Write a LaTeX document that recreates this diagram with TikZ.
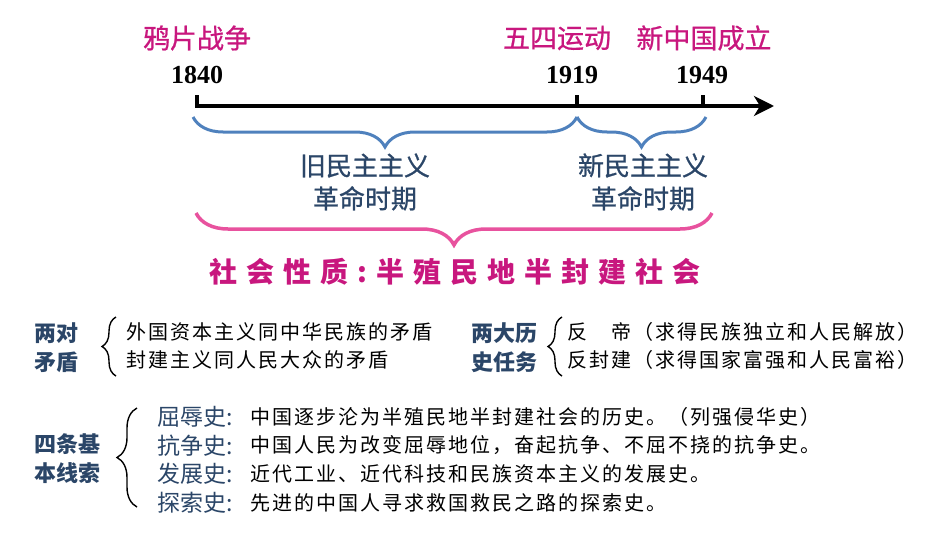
\documentclass[tikz,border=0pt]{standalone}
\usepackage{fontspec}
\setmainfont{Liberation Serif}
\newfontfamily\cjk{Noto Sans CJK SC}
\newfontfamily\cjkmed[FakeBold=0.8]{Noto Sans CJK SC}
\newfontfamily\cjkwide[LetterSpace=32]{Noto Sans CJK SC}
\newfontfamily\cjkbody[LetterSpace=10]{Noto Sans CJK SC}
\usepackage{xcolor}
\usepackage{tikz}
\usetikzlibrary{calc,arrows.meta,positioning,decorations.pathreplacing}
\definecolor{evtc}{HTML}{C8177E}
\definecolor{perc}{HTML}{2B4668}
\definecolor{bluec}{HTML}{4F81BD}
\definecolor{pinkc}{HTML}{E8529E}
\tikzset{
  axis/.style={-{Stealth[length=20pt,width=20pt,inset=6pt]},line width=3.5pt,black},
  tk/.style={line width=3.5pt,black},
  bbrace/.style={decorate,decoration={brace,mirror,amplitude=30pt},line width=3pt,bluec},
  pbrace/.style={decorate,decoration={brace,mirror,amplitude=32pt},line width=3.5pt,pinkc},
  kbrace/.style={decorate,decoration={brace,amplitude=#1},line width=1.4pt,black},
  evt/.style={font=\cjkmed\fontsize{27}{30}\selectfont,text=evtc,inner sep=0pt},
  yr/.style={font=\fontsize{26}{28}\selectfont\bfseries,inner sep=0pt},
  per/.style={font=\cjkmed\fontsize{26}{33}\selectfont,text=perc,align=center,inner sep=0pt},
  soc/.style={font=\cjkwide\bfseries\fontsize{28}{30}\selectfont,text=evtc,inner sep=0pt},
  lab/.style={font=\cjk\bfseries\fontsize{22}{29}\selectfont,text=perc,align=center,inner sep=0pt},
  hd/.style={font=\cjk\fontsize{23}{25}\selectfont,text=perc,anchor=west,inner sep=0pt},
  txt/.style={font=\cjkbody\fontsize{20}{22}\selectfont,anchor=west,inner sep=0pt}
}
\begin{document}
\begin{tikzpicture}[x=1pt,y=-1pt]
\useasboundingbox (0,0) rectangle (950,535);
% timeline
\coordinate (t1840) at (197,106);
\coordinate (t1919) at (577,106);
\coordinate (t1949) at (703,106);
\coordinate (tend) at (774,106);
\draw[axis] ([yshift=11pt]t1840) -- (t1840) -- (tend);
\draw[tk] ([yshift=11pt]t1919) -- (t1919);
\draw[tk] ([yshift=11pt]t1949) -- (t1949);
\node[evt] (yapian) at (197,38) {鸦片战争};
\node[evt] (wusi) at (557,38) {五四运动};
\node[evt] (xinzg) at (704,38) {新中国成立};
\node[yr] (y1840) at (197,75) {1840};
\node[yr] (y1919) at (572,75) {1919};
\node[yr] (y1949) at (702,75) {1949};
% periods
\draw[bbrace] (193,117) -- (577,117);
\draw[bbrace] (577,117) -- (706,117);
\node[per] (jiu) at (365,182) {旧民主主义\\革命时期};
\node[per] (xin) at (643,182) {新民主主义\\革命时期};
\draw[pbrace] (196,213) -- (712,213);
\node[soc] (shehui) at (455,272) {社会性质:半殖民地半封建社会};
% contradictions and tasks
\node[lab] (liangdui) at (56,348) {两对\\矛盾};
\draw[kbrace=14pt] (116,376) -- (116,317);
\node[txt] (md1) at (126,332) {外国资本主义同中华民族的矛盾};
\node[txt] (md2) at (126,360) {封建主义同人民大众的矛盾};
\node[lab] (renwu) at (504,348) {两大历\\史任务};
\draw[kbrace=14pt] (562,376) -- (562,317);
\node[txt] (rw1) at (567,332) {反　帝（求得民族独立和人民解放）};
\node[txt] (rw2) at (567,360) {反封建（求得国家富强和人民富裕）};
% four threads
\node[lab] (sitiao) at (67,459) {四条基\\本线索};
\draw[kbrace=20pt] (137,507) -- (137,408);
\foreach \i/\hname/\tname in {0/qu/屈辱史,1/kang/抗争史,2/fa/发展史,3/tan/探索史}{
  \node[hd] (\hname) at (157,{417+28.5*\i}) {\tname:};
}
\node[txt] (quT) at (250,417) {中国逐步沦为半殖民地半封建社会的历史。（列强侵华史）};
\node[txt] (kangT) at (250,445.5) {中国人民为改变屈辱地位，奋起抗争、不屈不挠的抗争史。};
\node[txt] (faT) at (250,474) {近代工业、近代科技和民族资本主义的发展史。};
\node[txt] (tanT) at (250,502.5) {先进的中国人寻求救国救民之路的探索史。};
\end{tikzpicture}
\end{document}
